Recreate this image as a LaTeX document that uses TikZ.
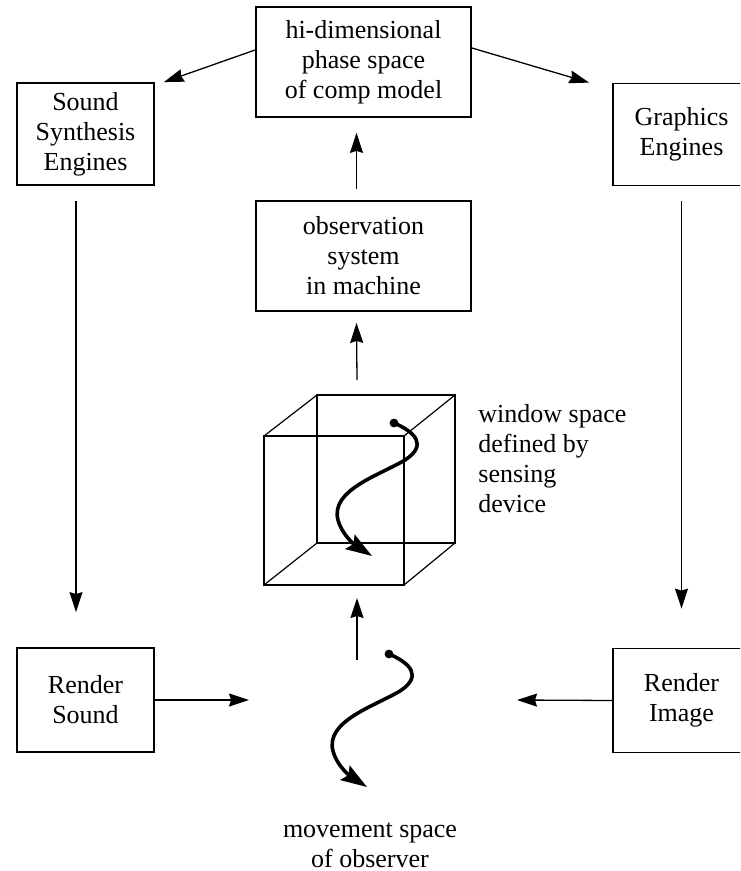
\documentclass[tikz,border=0pt]{standalone}
\usepackage{fontspec}
\setmainfont{Liberation Serif}
\usetikzlibrary{arrows.meta,calc}
\begin{document}
\begin{tikzpicture}[x=0.5pt,y=-0.5pt,
  every node/.style={font=\fontsize{13}{15}\selectfont},
  box/.style={draw,line width=0.9pt,minimum width=68.5pt,minimum height=51pt,align=center,inner sep=0pt},
  bigbox/.style={box,minimum width=107.5pt,minimum height=55pt},
  arr/.style={line width=0.65pt,-{Stealth[length=10pt,width=6.5pt,inset=1pt]}},
  edgeline/.style={line width=0.6pt},
  traj/.style={line width=1.8pt,-{Stealth[length=13pt,width=8.5pt,inset=2pt]}},
  squig/.pic={
    \fill (0,0) circle (2.2pt);
    \draw[traj] (0,0) .. controls (21,9) and (34,22) .. (11,37) .. controls (-14,52) and (-64,67) .. (-56,97) .. controls (-52,112) and (-39,122) .. (-22,133);
  }]
\clip (0,0) rectangle (740,871);
\fill[white] (0,0) rectangle (740,871);

% boxes
\node[bigbox] (top) at (363.5,62) {hi-dimensional\\phase space\\of comp model};
\node[bigbox] (obs) at (363.5,256) {observation\\system\\in machine};
\node[box] (sound) at (85.5,134) {Sound\\Synthesis\\Engines};
\node[box] (gfx) at (681.5,134.5) {Graphics\\Engines};
\node[box,minimum height=52pt] (rsound) at (85.5,700) {Render\\Sound};
\node[box,minimum height=52pt] (rimage) at (681.5,700.5) {Render\\Image};

% labels
\node[align=left,anchor=north west,inner sep=0pt] (wintext) at (478,404) {window space\\defined by\\sensing\\device};
\node[align=center,anchor=north,inner sep=0pt] (movtext) at (370,822) {movement space\\of observer};

% cube
\draw[edgeline] (264,436) rectangle (404,585);
\draw[edgeline] (317,395) rectangle (455,543);
\draw[edgeline] (264,436) -- (317,395) (404,436) -- (455,395) (264,585) -- (317,543) (404,585) -- (455,543);

% trajectories
\pic at (394,423) {squig};
\pic at (389,654) {squig};

% free connector ends
\coordinate (cubetop) at (357,380);
\coordinate (cubebot) at (357,598);
\coordinate (movetop) at (357,660);
\coordinate (soundtip) at (249,700);
\coordinate (imagetip) at (517,700);

% connectors
\draw[arr] ($(top.west)+(0,-12)$) -- ($(sound.north east)+(9,0)$);
\draw[arr] ($(top.east)+(0,-14)$) -- ($(gfx.north west)+(-23,0)$);
\draw[arr] ($(obs.north)+(-7,-11)$) -- ($(top.south)+(-7,15)$);
\draw[arr] (cubetop) -- ($(obs.south)+(-7,11)$);
\draw[arr] (movetop) -- (cubebot);
\draw[arr] ($(sound.south)+(-9.5,15)$) -- ($(rsound.north)+(-9.5,-35)$);
\draw[arr] ($(gfx.south)+(0,15)$) -- ($(rimage.north)+(0,-39)$);
\draw[arr] (rsound.east) -- (soundtip);
\draw[arr] (rimage.west) -- (imagetip);
\end{tikzpicture}
\end{document}
